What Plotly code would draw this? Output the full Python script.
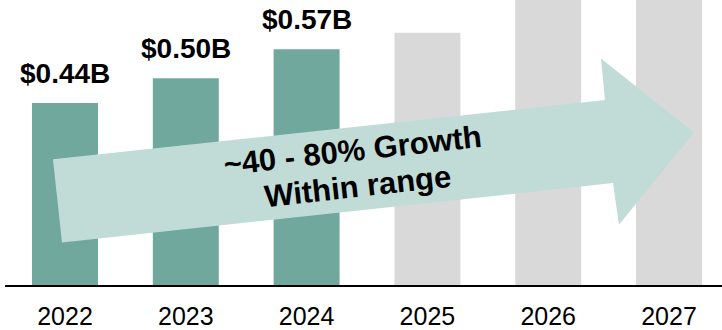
import plotly.graph_objects as go

# ---- data ----
years = ["2022", "2023", "2024", "2025", "2026", "2027"]
values = [0.44, 0.50, 0.57, 0.61, 0.72, 0.80]
value_labels = ["$0.44B", "$0.50B", "$0.57B", "", "", ""]
actual_flags = [True, True, True, False, False, False]
arrow_lines = ["~40 - 80% Growth", "Within range"]

# ---- styling / layout constants ----
TEAL = "#70a89e"
GREY = "#d9d9d9"
ARROW_FILL = "#c1dcd7"
FONT = "Liberation Sans, Arial, sans-serif"

W, H = 722, 330
L, R, T, B = 5, 0, 0, 42
PW, PH = W - L - R, H - T - B

# arrow outline (decoration, in pixel space of the canvas)
arrow_px = [(53, 161), (605, 101), (601, 59), (694, 134), (619, 227), (613, 185), (62, 245)]
arrow_line_centers = [(352.5, 152.5), (357, 188.5)]
ARROW_ANGLE = -6.3


def to_paper(p):
    return ((p[0] - L) / PW, 1 - (p[1] - T) / PH)


arrow_path = "M " + " L ".join(f"{x:.4f},{y:.4f}" for x, y in map(to_paper, arrow_px)) + " Z"

colors = [TEAL if a else GREY for a in actual_flags]

fig = go.Figure(
    go.Bar(
        x=years,
        y=values,
        marker=dict(color=colors, line=dict(width=0)),
        hoverinfo="skip",
    )
)

# value labels above the actual bars (x given as category index)
for i, (v, lab) in enumerate(zip(values, value_labels)):
    if lab:
        fig.add_annotation(
            x=i, y=v, xref="x", yref="y", text="<b>" + lab + "</b>",
            showarrow=False, yanchor="bottom", xanchor="center", yshift=12,
            font=dict(family=FONT, size=28, color="black"),
        )

# growth arrow
fig.add_shape(
    type="path", path=arrow_path, xref="paper", yref="paper",
    fillcolor=ARROW_FILL, line=dict(width=0), layer="above",
)
for txt, c in zip(arrow_lines, arrow_line_centers):
    px, py = to_paper(c)
    fig.add_annotation(
        x=px, y=py, xref="paper", yref="paper",
        text="<b>" + txt + "</b>", showarrow=False, textangle=ARROW_ANGLE,
        xanchor="center", yanchor="middle",
        font=dict(family=FONT, size=31, color="black"),
    )

px_per_cat = 120.8
x0 = -(65 - L) / px_per_cat
x1 = x0 + PW / px_per_cat

fig.update_layout(
    width=W, height=H,
    margin=dict(l=L, r=R, t=T, b=B, pad=0),
    plot_bgcolor="white", paper_bgcolor="white",
    showlegend=False,
    bargap=0.454,
    xaxis=dict(
        type="category", range=[x0, x1],
        showline=True, linecolor="black", linewidth=2,
        ticks="outside", ticklen=8, tickcolor="rgba(0,0,0,0)",
        tickfont=dict(family=FONT, size=25, color="black"),
        showgrid=False, zeroline=False, fixedrange=True,
    ),
    yaxis=dict(
        range=[0, PH / 418], visible=False, showgrid=False, zeroline=False, fixedrange=True,
    ),
)

fig.write_html(
    "out.html",
    config={"displayModeBar": False},
    post_script="document.body.style.margin='0';document.body.style.padding='0';document.body.style.overflow='hidden';",
)
